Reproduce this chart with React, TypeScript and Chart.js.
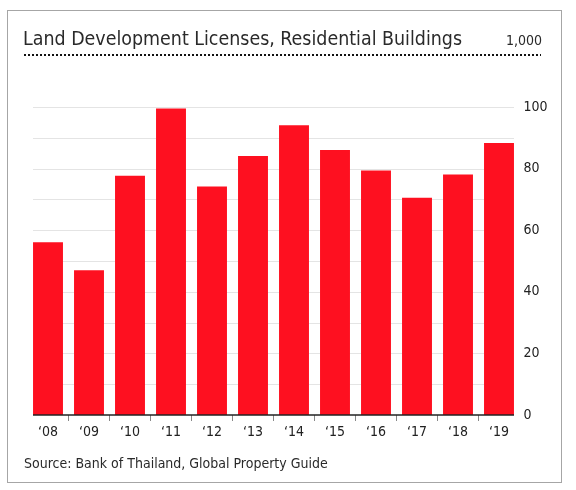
import React, { useEffect, useRef } from "react";
import { Chart, registerables } from "chart.js";

Chart.register(...registerables);

const categories = ["‘08", "‘09", "‘10", "‘11", "‘12", "‘13", "‘14", "‘15", "‘16", "‘17", "‘18", "‘19"];
const licenses = [56.1, 47.0, 77.7, 99.5, 74.2, 84.1, 94.1, 86.0, 79.4, 70.5, 78.1, 88.3];
const yMin = 0;
const yMax = 100;
const yStep = 10;
const yLabelStep = 20;
const titleText = "Land Development Licenses, Residential Buildings";
const unitText = "1,000";
const sourceText = "Source: Bank of Thailand, Global Property Guide";

const FONT = "'DejaVu Sans Condensed', 'DejaVu Sans', sans-serif";
const EDGE_GAP = 5.5;

const decorations = {
  id: "decorations",
  beforeDraw(chart: any) {
    const ctx = chart.ctx;
    ctx.save();
    ctx.fillStyle = "#ffffff";
    ctx.fillRect(0, 0, chart.width, chart.height);
    ctx.strokeStyle = "#a6a6a6";
    ctx.lineWidth = 1;
    ctx.strokeRect(7.5, 10.5, 554, 472);
    ctx.restore();
  },
  beforeDatasetsDraw(chart: any) {
    const ctx = chart.ctx;
    const area = chart.chartArea;
    const y = chart.scales.y;
    const x0 = area.left + EDGE_GAP;
    const x1 = area.right - EDGE_GAP;
    ctx.save();
    ctx.strokeStyle = "#e4e4e4";
    ctx.lineWidth = 1.2;
    y.ticks.forEach((t: any) => {
      if (t.value === yMin) return;
      const py = Math.round(y.getPixelForValue(t.value)) + 0.5;
      ctx.beginPath();
      ctx.moveTo(x0, py);
      ctx.lineTo(x1, py);
      ctx.stroke();
    });
    ctx.restore();
  },
  afterDatasetsDraw(chart: any) {
    const ctx = chart.ctx;
    const area = chart.chartArea;
    const y = chart.scales.y;
    const py = y.getPixelForValue(yMin);
    ctx.save();
    ctx.strokeStyle = "#222222";
    ctx.lineWidth = 1.5;
    ctx.beginPath();
    ctx.moveTo(area.left + EDGE_GAP, py);
    ctx.lineTo(area.right - EDGE_GAP, py);
    ctx.stroke();
    ctx.restore();
  },
  afterDraw(chart: any) {
    const ctx = chart.ctx;
    ctx.save();
    ctx.fillStyle = "#2a2a2a";
    ctx.textBaseline = "alphabetic";
    ctx.textAlign = "left";
    ctx.font = `20px ${FONT}`;
    ctx.fillText(titleText, 23, 45, 439);
    ctx.font = `14px ${FONT}`;
    ctx.textAlign = "right";
    ctx.fillText(unitText, 542, 45);
    ctx.textAlign = "left";
    ctx.fillText(sourceText, 24, 468, 335);
    ctx.strokeStyle = "#111111";
    ctx.lineWidth = 2;
    ctx.setLineDash([2, 2]);
    ctx.beginPath();
    ctx.moveTo(24, 55);
    ctx.lineTo(541, 55);
    ctx.stroke();
    ctx.restore();
  },
};

export default function App() {
  const ref = useRef<HTMLCanvasElement>(null);
  useEffect(() => {
    if (!ref.current) return;
    const chart = new Chart(ref.current, {
      type: "bar",
      data: {
        labels: categories,
        datasets: [
          {
            data: licenses,
            backgroundColor: "#fe1020",
            borderWidth: 0,
            barPercentage: 0.73,
            categoryPercentage: 1,
          },
        ],
      },
      options: {
        animation: false,
        responsive: false,
        maintainAspectRatio: false,
        layout: { padding: { left: 27.5, top: 107, right: 0, bottom: 0 } },
        plugins: { legend: { display: false }, title: { display: false }, tooltip: { enabled: false } },
        scales: {
          x: {
            grid: {
              offset: true,
              drawOnChartArea: false,
              drawTicks: true,
              tickLength: 6,
              color: (c: any) =>
                c.type !== "tick" || c.index === 0 || c.index >= categories.length ? "rgba(0,0,0,0)" : "#888888",
            },
            border: { display: false },
            ticks: { color: "#222222", font: { family: FONT, size: 14 }, padding: 3, maxRotation: 0 },
            afterFit: (s: any) => {
              s.height = 75;
            },
          },
          y: {
            position: "right",
            min: yMin,
            max: yMax,
            grid: { display: false, drawTicks: false },
            border: { display: false },
            ticks: {
              stepSize: yStep,
              padding: 4,
              color: "#222222",
              font: { family: FONT, size: 14 },
              callback: (v: any) => (Number(v) % yLabelStep === 0 ? String(v) : ""),
            },
            afterFit: (s: any) => {
              s.width = 56.5;
            },
          },
        },
      },
      plugins: [decorations],
    });
    return () => chart.destroy();
  }, []);
  return (
    <div style={{ position: "absolute", left: 0, top: 0, width: 576, height: 490 }}>
      <canvas ref={ref} width={576} height={490} style={{ width: 576, height: 490, display: "block" }} />
    </div>
  );
}
